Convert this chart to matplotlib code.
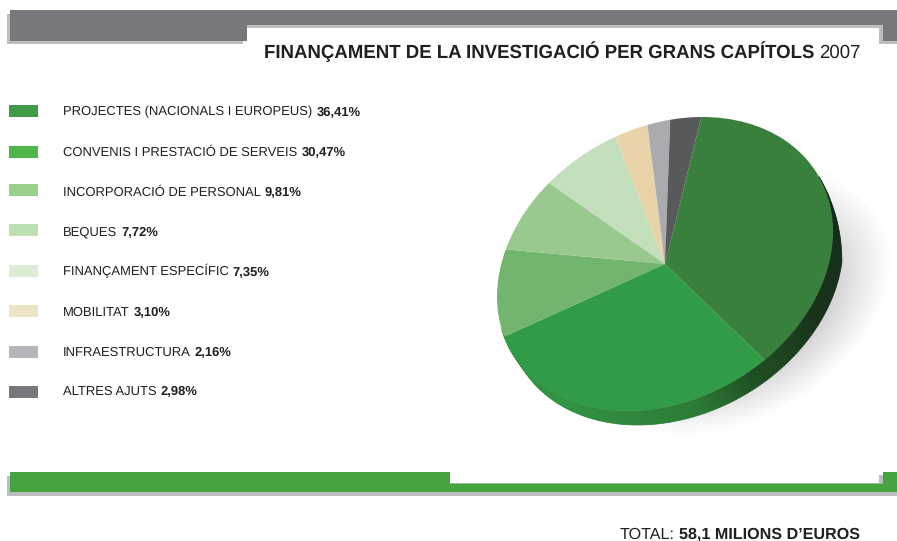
"""Financament de la investigacio 2007 - tilted pie with legend and header/footer bands."""
import numpy as np
import matplotlib; matplotlib.use("Agg"); import matplotlib.pyplot as plt
from matplotlib.patches import Rectangle
from matplotlib.collections import PolyCollection
from matplotlib.colors import LinearSegmentedColormap
from matplotlib.transforms import Affine2D

plt.rcParams["font.family"] = ["Liberation Sans", "DejaVu Sans"]
plt.rcParams["text.hinting"] = "none"

W, H = 897, 541

categories = ["PROJECTES (NACIONALS I EUROPEUS)", "CONVENIS I PRESTACIÓ DE SERVEIS",
              "INCORPORACIÓ DE PERSONAL", "BEQUES", "FINANÇAMENT ESPECÍFIC",
              "MOBILITAT", "INFRAESTRUCTURA", "ALTRES AJUTS"]
values = [36.41, 30.47, 9.81, 7.72, 7.35, 3.10, 2.16, 2.98]
value_labels = ["36,41%", "30,47%", "9,81%", "7,72%", "7,35%", "3,10%", "2,16%", "2,98%"]
pie_colors = ["#38803c", "#329b48", "#72b56c", "#9ac98f", "#c4dfbc", "#e8d4a8", "#a9abae", "#58595b"]
legend_colors = ["#3f9b45", "#4db549", "#9ad08a", "#bbdfae", "#dcedd6", "#ede4c8", "#b5b6ba", "#77787b"]
legend_y = [111, 152, 190, 230, 271, 311, 352, 392]
text_y = [111, 151, 191, 231, 271, 311, 351, 390]

GREY, SHADOW, GREEN = "#77787b", "#bcbdc0", "#45a340"
INK = "#231f20"

# pie geometry, pixels (y measured from the top)
CX, CY = 665, 264
A, B, TILT = 177, 136, 29.5
DX, DY = 10, 14     # thickness of the rim


def py(y):
    return H - y


def box(ax, x0, y0, x1, y1, color, z=2):
    ax.add_patch(Rectangle((x0, py(y1)), x1 - x0, y1 - y0, fc=color, ec="none", zorder=z))


def two_part(ax, x, y, first, second, size, bold_first=False, gap=4):
    """Regular + bold run on one baseline (order flipped for the title). y is the cap middle."""
    w1, w2 = ("bold", "normal") if bold_first else ("normal", "bold")
    base = py(y) - 0.497 * size
    t = ax.text(x, base, first, fontsize=size, fontweight=w1, color=INK, va="baseline", ha="left", zorder=6)
    # axes span the whole figure at 1 unit = 1 px, so display x is data x
    x1 = t.get_window_extent(ax.figure.canvas.get_renderer()).x1
    ax.text(x1 + gap, base, second, fontsize=size, fontweight=w2, color=INK, va="baseline", ha="left", zorder=6)


def main():
    fig = plt.figure(figsize=(W / 100, H / 100), dpi=100)
    ax = fig.add_axes([0, 0, 1, 1])

    # soft shadow behind the pie
    xs, ys = np.meshgrid(np.arange(500, W + 1), np.arange(150, 440))
    th = np.deg2rad(TILT)
    u = (xs - 730) * np.cos(th) - (ys - 302) * np.sin(th)
    v = (xs - 730) * np.sin(th) + (ys - 302) * np.cos(th)
    d = np.sqrt((u / 172) ** 2 + (v / 118) ** 2)
    img = np.zeros(d.shape + (4,))
    img[..., :3] = 0.74
    img[..., 3] = np.clip((1.0 - d) / 0.35, 0, 1) ** 1.1 * 0.65
    ax.imshow(img, extent=(500, W + 1, py(440), py(150)), origin="upper", aspect="auto", zorder=1)

    # circle -> tilted ellipse
    tf = Affine2D().scale(A, B).rotate_deg(TILT).translate(CX, py(CY))

    # rim: side of the cylinder, from green at lower left to almost black at right
    rim_cmap = LinearSegmentedColormap.from_list(
        "rim", [(0, "#329b48"), (0.2, "#2f8f40"), (0.39, "#2c7a35"), (0.48, "#1f4f22"),
                (0.61, "#18331a"), (0.82, "#14281a"), (1, "#14281a")])
    deg = np.linspace(-190, 0, 191)
    ts = np.deg2rad(deg)
    pts = tf.transform(np.column_stack([np.cos(ts), np.sin(ts)]))
    # rim tapers out towards the upper right instead of peeking round the top
    taper = np.clip((0 - deg) / 30, 0, 1)[:, None]
    low = pts + taper * np.array([DX, -DY])
    quads = [[pts[i], pts[i + 1], low[i + 1], low[i]] for i in range(len(pts) - 1)]
    ax.add_collection(PolyCollection(quads, array=np.linspace(0, 0.86, len(quads)), cmap=rim_cmap,
                                     norm=plt.Normalize(0, 1), edgecolors="face", linewidths=0.5, zorder=2))

    wedges, _ = ax.pie(values, colors=pie_colors, startangle=54, counterclock=False, radius=1)
    for w in wedges:
        w.set_transform(tf + ax.transData)
        w.set_zorder(3)
        w.set_edgecolor("none")

    # pie() resets these, so set them before any text is measured
    ax.set_aspect("auto")
    ax.set_xlim(0, W)
    ax.set_ylim(0, H)
    ax.axis("off")

    # header band
    box(ax, 7, 14, 243, 44, SHADOW, 2)
    box(ax, 879, 14, 897, 44, SHADOW, 2)
    box(ax, 10, 10, 897, 40.5, GREY, 3)
    box(ax, 247, 25, 883, 43, SHADOW, 4)
    box(ax, 247, 28, 879, 60, "white", 5)

    # footer band
    box(ax, 7, 476, 897, 495.5, SHADOW, 2)
    box(ax, 10, 472, 897, 492, GREEN, 3)
    box(ax, 450, 472, 883, 484, "#8fc48b", 4)
    box(ax, 450, 472, 879, 482.5, "white", 5)
    box(ax, 879, 475, 883, 483, SHADOW, 5)
    box(ax, 879, 472, 883, 475, "white", 5)

    # legend
    for name, lab, col, y, ty in zip(categories, value_labels, legend_colors, legend_y, text_y):
        box(ax, 9, y - 6, 38, y + 6, col)
        two_part(ax, 63, ty, name, lab, 9.33)

    two_part(ax, 264, 51.5, "FINANÇAMENT DE LA INVESTIGACIÓ PER GRANS CAPÍTOLS", "2007", 13.4, bold_first=True, gap=5)
    two_part(ax, 620, 533, "TOTAL:", "58,1 MILIONS D’EUROS", 11.6, gap=4)

    fig.savefig("out.png", dpi=100, facecolor="white")


if __name__ == "__main__":
    main()
